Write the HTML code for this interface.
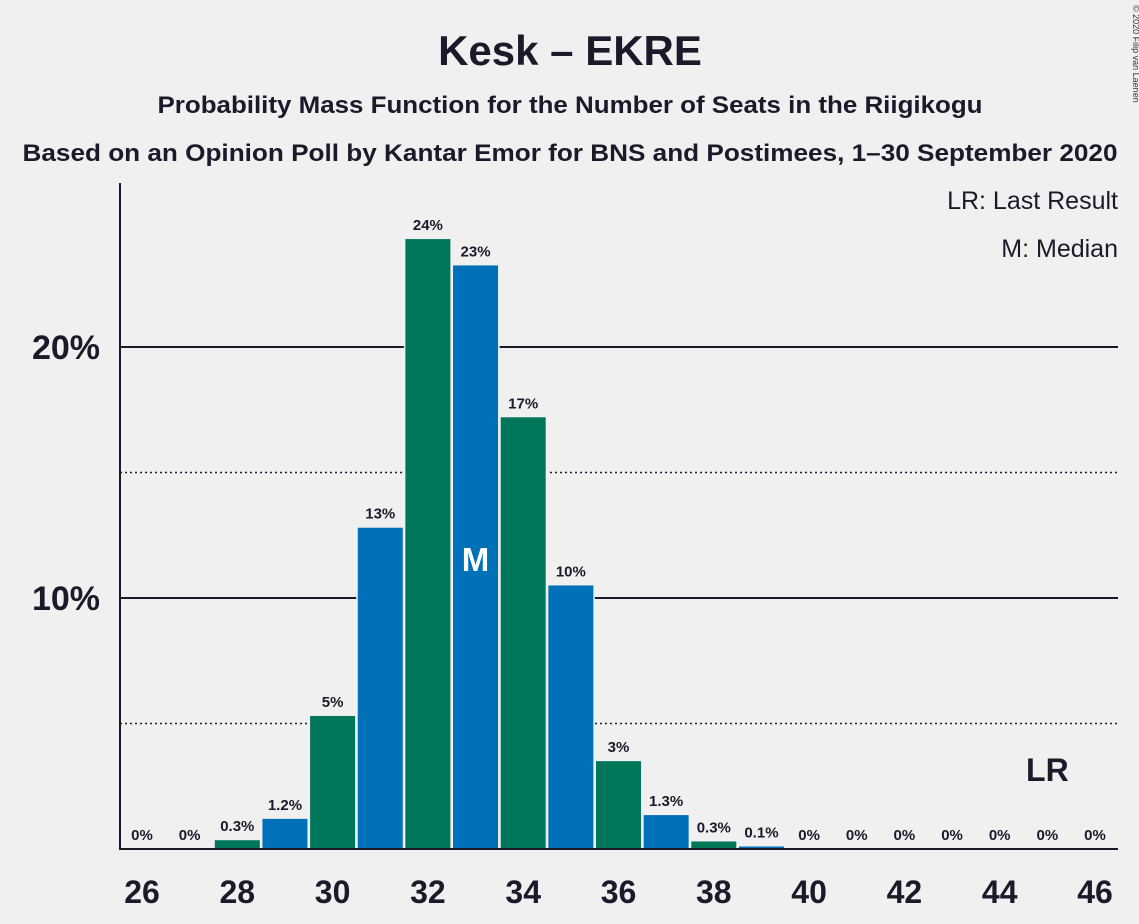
<!DOCTYPE html>
<html><head><meta charset="utf-8"><style>
body{margin:0;background:#f0f0f0;}
svg{display:block;font-family:"Liberation Sans",sans-serif;}
</style></head><body>
<svg id="c" width="1139" height="924">
<rect width="1139" height="924" fill="#f0f0f0"/>
<text x="570" y="65" text-anchor="middle" font-size="42" font-weight="bold" fill="#1a1a2a">Kesk – EKRE</text>
<text x="570" y="113" text-anchor="middle" font-size="24" font-weight="bold" fill="#1a1a2a" textLength="825" lengthAdjust="spacingAndGlyphs">Probability Mass Function for the Number of Seats in the Riigikogu</text>
<text x="570" y="161" text-anchor="middle" font-size="24" font-weight="bold" fill="#1a1a2a" textLength="1095" lengthAdjust="spacingAndGlyphs">Based on an Opinion Poll by Kantar Emor for BNS and Postimees, 1–30 September 2020</text>
<text x="1118" y="209" text-anchor="end" font-size="25" fill="#1a1a2a">LR: Last Result</text>
<text x="1118" y="257" text-anchor="end" font-size="25" fill="#1a1a2a">M: Median</text>
<text x="1133" y="5" font-size="9" fill="#333" transform="rotate(90 1133 5)">© 2020 Filip van Laenen</text>
<g id="grid"></g><g id="bars"></g><g id="labels"></g>
<line x1="120" y1="183" x2="120" y2="849" stroke="#1a1a2a" stroke-width="2"/>
<line x1="119" y1="849" x2="1118" y2="849" stroke="#1a1a2a" stroke-width="2"/>
</svg>
<script>
const seats=[26,27,28,29,30,31,32,33,34,35,36,37,38,39,40,41,42,43,44,45,46];
const probs=[0,0,0.35,1.2,5.3,12.8,24.3,23.25,17.2,10.5,3.5,1.35,0.3,0.1,0,0,0,0,0,0,0];
const labels=["0%","0%","0.3%","1.2%","5%","13%","24%","23%","17%","10%","3%","1.3%","0.3%","0.1%","0%","0%","0%","0%","0%","0%","0%"];
const yTicks=[10,20];
const yDotted=[5,15];
const xTicks=[26,28,30,32,34,36,38,40,42,44,46];
const median=33, lastResult=45;
const NS="http://www.w3.org/2000/svg";
const x=s=>142+(s-26)*47.65;
const y=v=>849-v*25.1;
function mk(t,a,p){const e=document.createElementNS(NS,t);for(const k in a)e.setAttribute(k,a[k]);p.appendChild(e);return e;}
const grid=document.getElementById('grid'),bars=document.getElementById('bars'),lab=document.getElementById('labels'),svg=document.getElementById('c');
yDotted.forEach(v=>{const l=mk('line',{x1:120,x2:1118,y1:y(v),y2:y(v),stroke:'#1a1a2a','stroke-width':1.5,'stroke-dasharray':'2,3'},grid);

});
yTicks.forEach(v=>{const l=mk('line',{x1:120,x2:1118,y1:y(v),y2:y(v),stroke:'#1a1a2a','stroke-width':2},grid);


const t=mk('text',{x:100,y:y(v)+12,'text-anchor':'end','font-size':34,'font-weight':'bold',fill:'#1a1a2a'},lab);t.textContent=v+'%';

});
seats.forEach((s,i)=>{const p=probs[i];
if(p>0){const r=mk('rect',{x:x(s)-22.5,y:y(p),width:45,height:849-y(p),fill:s%2?'#0070b8':'#00765a',stroke:'#f0f0f0','stroke-width':3,'paint-order':'stroke'},bars);

}
const t=mk('text',{x:x(s),y:y(p)-9,'text-anchor':'middle','font-size':15,'font-weight':'bold',fill:'#1a1a2a'},lab);t.textContent=labels[i];


if(s===median){const m=mk('text',{x:x(s),y:571,'text-anchor':'middle','font-size':33,'font-weight':'bold',fill:'#fff'},lab);m.textContent='M';

}
if(s===lastResult){const m=mk('text',{x:x(s),y:781,'text-anchor':'middle','font-size':32,'font-weight':'bold',fill:'#1a1a2a'},lab);m.textContent='LR';

}
});
xTicks.forEach(s=>{const t=mk('text',{x:x(s),y:903,'text-anchor':'middle','font-size':32,'font-weight':'bold',fill:'#1a1a2a'},lab);t.textContent=s;

});
</script>
</body></html>
